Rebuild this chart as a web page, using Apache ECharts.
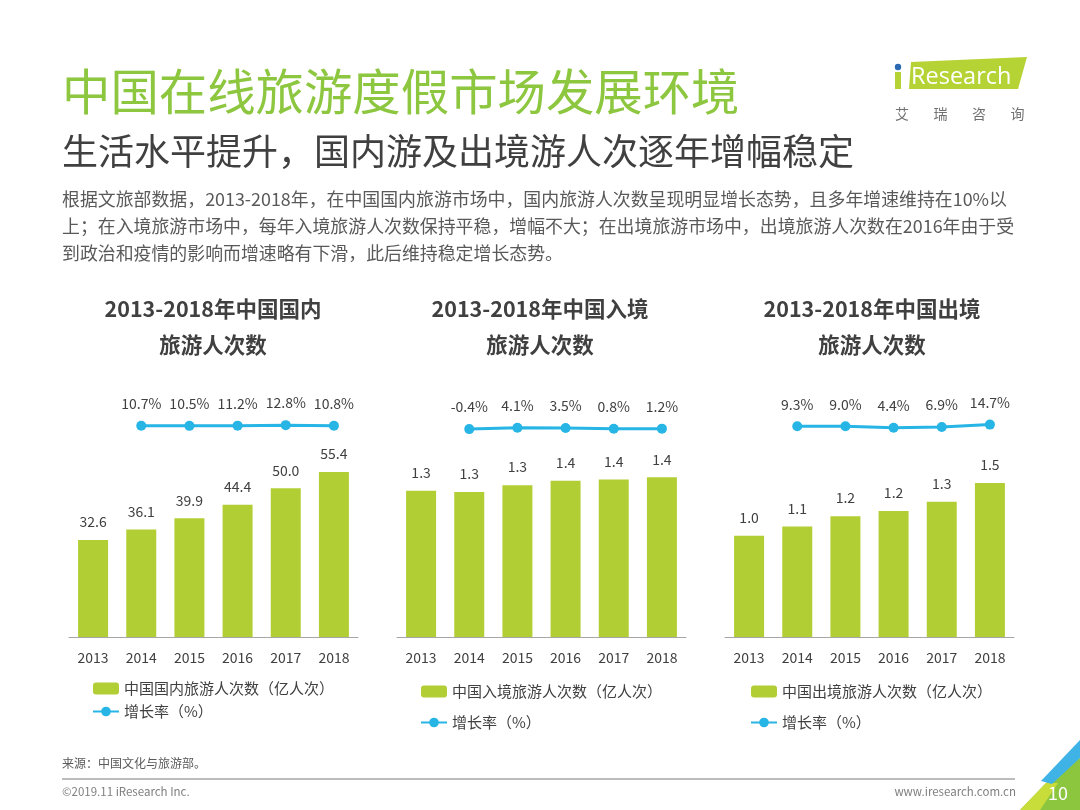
<!DOCTYPE html>
<html>
<head>
<meta charset="utf-8">
<script src="https://cdn.jsdelivr.net/npm/echarts@6/dist/echarts.min.js"></script>
<style>
html,body{margin:0;padding:0;background:#fff;}
#c{width:1080px;height:810px;}
</style>
</head>
<body>
<div id="c"></div>
<script>
const years = ['2013','2014','2015','2016','2017','2018'];
const domesticVisits = [32.6, 36.1, 39.9, 44.4, 50.0, 55.4];
const domesticGrowth = ['-', 10.7, 10.5, 11.2, 12.8, 10.8];
const inboundVisits = [1.29, 1.28, 1.34, 1.38, 1.39, 1.41];
const inboundGrowth = ['-', -0.4, 4.1, 3.5, 0.8, 1.2];
const outboundVisits = [0.98, 1.07, 1.17, 1.22, 1.31, 1.49];
const outboundGrowth = ['-', 9.3, 9.0, 4.4, 6.9, 14.7];
const barNames = ['中国国内旅游人次数（亿人次）', '中国入境旅游人次数（亿人次）', '中国出境旅游人次数（亿人次）'];
const lineName = '增长率（%）';
const chartTitles = [['2013-2018年中国国内', '旅游人次数'], ['2013-2018年中国入境', '旅游人次数'], ['2013-2018年中国出境', '旅游人次数']];
const paragraph = [
  '根据文旅部数据，2013-2018年，在中国国内旅游市场中，国内旅游人次数呈现明显增长态势，且多年增速维持在10%以',
  '上；在入境旅游市场中，每年入境旅游人次数保持平稳，增幅不大；在出境旅游市场中，出境旅游人次数在2016年由于受',
  '到政治和疫情的影响而增速略有下滑，此后维持稳定增长态势。'
];

const FF = '"Noto Sans CJK SC", "Noto Sans", sans-serif';
const GREEN = '#b2ce35';
const BLUE = '#27b5e5';
const TXT = '#404040';

const barData = [domesticVisits, inboundVisits, outboundVisits];
const lineData = [domesticGrowth, inboundGrowth, outboundGrowth];
const barMax = [67.2, 1.765, 1.936];
const lefts = [69, 397, 725];
const centers = [213, 540, 872];
const W = 289;

const grid = [], xAxis = [], yAxis = [], series = [], legend = [], graphic = [];

for (let i = 0; i < 3; i++) {
  grid.push({ left: lefts[i], width: W, top: 437, height: 200 });
  xAxis.push({
    type: 'category', gridIndex: i, data: years,
    axisLine: { lineStyle: { color: '#a6a6a6', width: 1 } },
    axisTick: { show: false },
    axisLabel: { color: TXT, fontSize: 14, fontFamily: FF, margin: 14 }
  });
  yAxis.push({ type: 'value', gridIndex: i, min: 0, max: barMax[i], show: false, splitLine: { show: false } });
  series.push({
    type: 'bar', name: barNames[i], xAxisIndex: i, yAxisIndex: i,
    data: barData[i], barWidth: 30,
    itemStyle: { color: GREEN },
    label: { show: true, position: 'top', distance: 11, color: TXT, fontSize: 14, fontFamily: FF,
      formatter: p => Number(p.value).toFixed(1) }
  });
}
for (let i = 0; i < 3; i++) {
  grid.push({ left: lefts[i], width: W, top: 414, height: 30 });
  xAxis.push({ type: 'category', gridIndex: 3 + i, data: years, show: false });
  yAxis.push({ type: 'value', gridIndex: 3 + i, min: -50, max: 50, show: false, splitLine: { show: false } });
  series.push({
    type: 'line', name: lineName, xAxisIndex: 3 + i, yAxisIndex: 3 + i,
    data: lineData[i], symbol: 'circle', symbolSize: 10,
    lineStyle: { color: BLUE, width: 3 }, itemStyle: { color: BLUE },
    label: { show: true, position: 'top', distance: 10, color: TXT, fontSize: 14, fontFamily: FF,
      formatter: p => Number(p.value).toFixed(1) + '%' }
  });
}

const legendLefts = [92, 420, 750];
const legendTops = [681, 684, 684];
const legendGaps = [8, 16, 16];
for (let i = 0; i < 3; i++) {
  legend.push({
    orient: 'vertical', left: legendLefts[i], top: legendTops[i], itemGap: legendGaps[i],
    padding: 0,
    itemWidth: 26, itemHeight: 12, selectedMode: false,
    textStyle: { color: TXT, fontSize: 15, fontFamily: FF },
    data: [barNames[i], lineName]
  });
}

// Header texts
graphic.push({ type: 'text', x: 62, y: 92, style: { text: '中国在线旅游度假市场发展环境', fill: '#8dc63f', font: '48.4px ' + FF, textVerticalAlign: 'middle' } });
graphic.push({ type: 'text', x: 62, y: 151, style: { text: '生活水平提升，国内游及出境游人次逐年增幅稳定', fill: TXT, font: '36px ' + FF, textVerticalAlign: 'middle' } });
const paraY = [199, 226, 253];
paragraph.forEach((t, k) => {
  graphic.push({ type: 'text', x: 62, y: paraY[k], style: { text: t, fill: '#595959', font: '17.9px ' + FF, textVerticalAlign: 'middle' } });
});
// Chart titles
for (let i = 0; i < 3; i++) {
  graphic.push({ type: 'text', x: centers[i], y: 309, style: { text: chartTitles[i][0], fill: TXT, font: 'bold 21.5px ' + FF, textAlign: 'center', textVerticalAlign: 'middle' } });
  graphic.push({ type: 'text', x: centers[i], y: 345, style: { text: chartTitles[i][1], fill: TXT, font: 'bold 21.5px ' + FF, textAlign: 'center', textVerticalAlign: 'middle' } });
}
// Logo
graphic.push({ type: 'polygon', shape: { points: [[911, 62], [1027, 57], [1018, 89], [909, 89]] }, style: { fill: '#b5d334' } });
graphic.push({ type: 'rect', shape: { x: 895, y: 72, width: 6, height: 17 }, style: { fill: '#b5d334' } });
graphic.push({ type: 'circle', shape: { cx: 898, cy: 67, r: 3.2 }, style: { fill: '#2a6ab3' } });
graphic.push({ type: 'text', x: 911, y: 77, style: { text: 'Research', fill: '#ffffff', font: '23.5px "Open Sans", sans-serif', textVerticalAlign: 'middle' } });
const logoCn = ['艾', '瑞', '咨', '询'];
logoCn.forEach((t, k) => {
  graphic.push({ type: 'text', x: 902 + k * 38.5, y: 114, style: { text: t, fill: '#707070', font: '14px ' + FF, textAlign: 'center', textVerticalAlign: 'middle' } });
});
// Footer
graphic.push({ type: 'text', x: 62, y: 763, style: { text: '来源：中国文化与旅游部。', fill: '#595959', font: '12px ' + FF, textVerticalAlign: 'middle' } });
graphic.push({ type: 'line', shape: { x1: 62, y1: 779, x2: 1015, y2: 779 }, style: { stroke: '#a6a6a6', lineWidth: 1.5 } });
graphic.push({ type: 'text', x: 62, y: 792, style: { text: '©2019.11 iResearch Inc.', fill: '#7f7f7f', font: '11.5px ' + FF, textVerticalAlign: 'middle' } });
graphic.push({ type: 'text', x: 1016, y: 792, style: { text: 'www.iresearch.com.cn', fill: '#7f7f7f', font: '11.5px ' + FF, textAlign: 'right', textVerticalAlign: 'middle' } });
// Corner decoration
graphic.push({ type: 'polygon', shape: { points: [[1020, 810], [1046, 783], [1080, 758], [1080, 810]] }, style: { fill: '#8cc63f' } });
graphic.push({ type: 'polygon', shape: { points: [[1020, 810], [1046, 783], [1058, 783], [1040, 810]] }, style: { fill: '#c9dd3a' } });
graphic.push({ type: 'polygon', shape: { points: [[1041, 781], [1080, 740], [1080, 758], [1052, 784]] }, style: { fill: '#3fb3e6' } });
graphic.push({ type: 'text', x: 1058, y: 793, style: { text: '10', fill: '#ffffff', font: '18px ' + FF, textAlign: 'center', textVerticalAlign: 'middle' } });

const chart = echarts.init(document.getElementById('c'), null, { renderer: 'canvas' });
chart.setOption({
  backgroundColor: '#ffffff',
  animation: false,
  grid, xAxis, yAxis, series, legend, graphic
});
</script>
</body>
</html>
